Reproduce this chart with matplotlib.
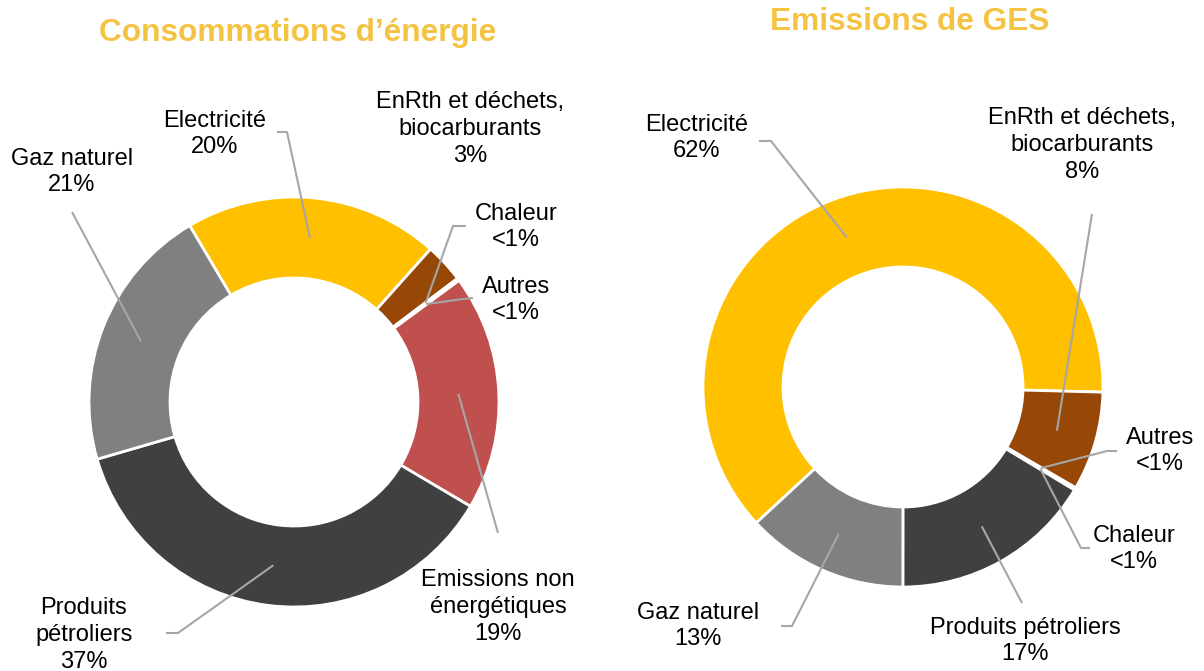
import numpy as np
import matplotlib
matplotlib.use("Agg")
import matplotlib.pyplot as plt

plt.rcParams["font.family"] = ["Liberation Sans", "DejaVu Sans"]

# --- data -------------------------------------------------------------
left_names = ["Electricité", "EnRth et déchets,\nbiocarburants", "Chaleur", "Autres",
              "Emissions non\nénergétiques", "Produits\npétroliers", "Gaz naturel"]
left_values = [20.1, 3.1, 0.1, 0.1, 18.6, 37.0, 21.0]
left_pcts = ["20%", "3%", "<1%", "<1%", "19%", "37%", "21%"]
left_colors = ["#FFC000", "#974806", "#F79646", "#A5A5A5", "#C0504D", "#404040", "#808080"]

right_names = ["Electricité", "EnRth et déchets,\nbiocarburants", "Autres", "Chaleur",
               "Produits pétroliers", "Gaz naturel"]
right_values = [62.3, 8.0, 0.1, 0.1, 16.4, 13.1]
right_pcts = ["62%", "8%", "<1%", "<1%", "17%", "13%"]
right_colors = ["#FFC000", "#974806", "#A5A5A5", "#F79646", "#404040", "#808080"]

W, H = 1204, 671
TITLE_COLOR = "#F5C342"
LINE_COLOR = "#A6A6A6"


def Y(y):
    # pixel row (top-down) -> data y
    return H - y


fig = plt.figure(figsize=(W / 100, H / 100), dpi=100)
ax = fig.add_axes([0, 0, 1, 1])


def donut(values, colors, center, radius, width, start):
    wedges, _ = ax.pie(values, colors=colors, center=center, radius=radius,
                       startangle=start, counterclock=False,
                       wedgeprops=dict(width=width, edgecolor="white", linewidth=2))
    mids = []
    r_mid = radius - width / 2
    for w in wedges:
        a = np.deg2rad((w.theta1 + w.theta2) / 2)
        mids.append((center[0] + r_mid * np.cos(a), center[1] + r_mid * np.sin(a)))
    return mids


left_mid = donut(left_values, left_colors, (294, Y(402)), 205, 81, 120.6)
right_mid = donut(right_values, right_colors, (903, Y(387)), 200, 80, 222.8)

ax.set_xlim(0, W)
ax.set_ylim(0, H)
ax.set_aspect("equal")
ax.axis("off")

# label positions (pixel coords) and leader start points
left_text = [(215, 134), (470, 129), (516, 227), (516, 300), (498, 607), (84, 635), (72, 172)]
left_lead = [[(277, 132), (287, 132)], None, [(466, 226), (453, 226)],
             [(473, 298), (463, 299)], [(498, 533)], [(166, 633), (178, 633)], [(72, 212)]]

right_text = [(697, 138), (1082, 145), (1160, 451), (1134, 549), (1025, 641), (698, 626)]
right_lead = [[(759, 141), (771, 141)], [(1092, 214)], [(1117, 451), (1107, 451)],
              [(1090, 548), (1081, 548)], [(1022, 603)], [(781, 626), (792, 626)]]


def labels(names, pcts, texts, leads, mids):
    for name, pct, (tx, ty), lead, end in zip(names, pcts, texts, leads, mids):
        ax.text(tx, Y(ty), f"{name}\n{pct}", ha="center", va="center",
                multialignment="center", fontsize=17, color="black", linespacing=1.27)
        if lead:
            xs = [p[0] for p in lead] + [end[0]]
            ys = [Y(p[1]) for p in lead] + [end[1]]
            ax.plot(xs, ys, color=LINE_COLOR, lw=1.5, solid_capstyle="butt")


labels(left_names, left_pcts, left_text, left_lead, left_mid)
labels(right_names, right_pcts, right_text, right_lead, right_mid)

ax.text(298, Y(33), "Consommations d’énergie", ha="center", va="center",
        fontsize=22.8, fontweight="bold", color=TITLE_COLOR)
ax.text(910, Y(22), "Emissions de GES", ha="center", va="center",
        fontsize=22.8, fontweight="bold", color=TITLE_COLOR)

fig.savefig("out.png", dpi=100)
